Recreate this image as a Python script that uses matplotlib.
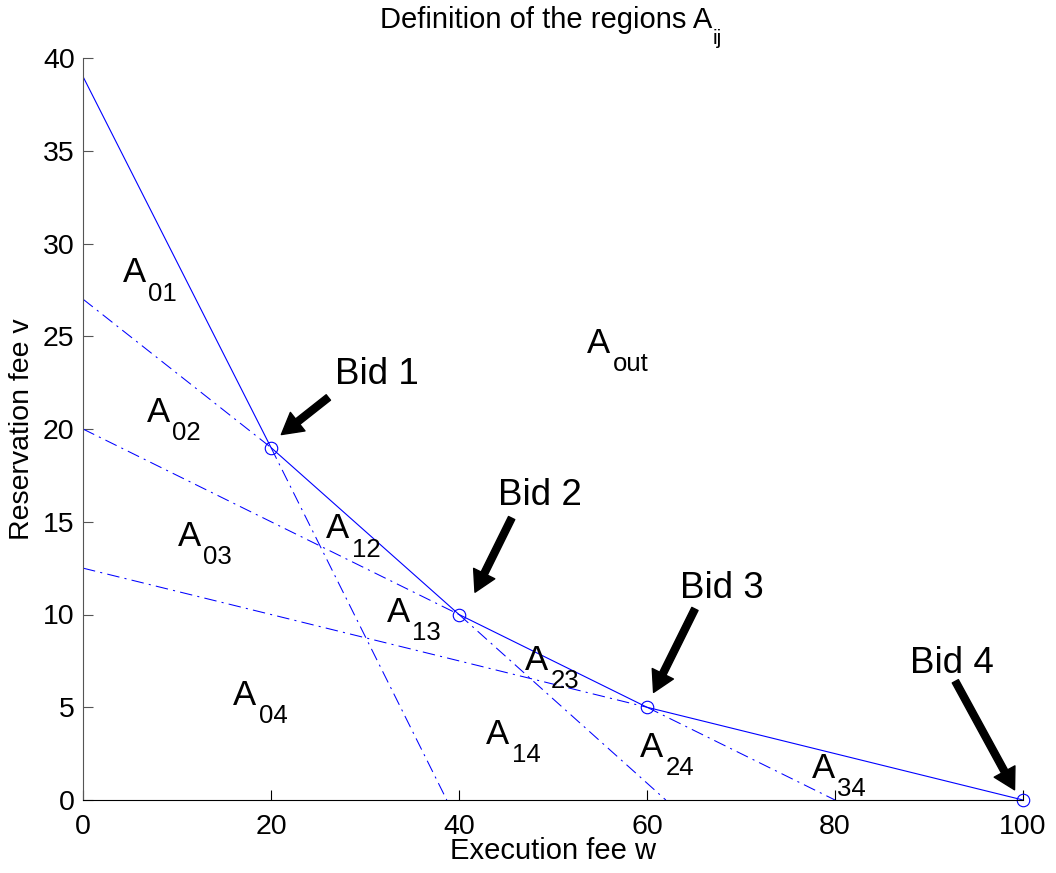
import matplotlib
matplotlib.use("Agg")
import matplotlib.pyplot as plt

plt.rcParams['font.family'] = ['Liberation Sans', 'DejaVu Sans']

# ---- data ----
envelope_w = [0, 20, 40, 60, 100]
envelope_v = [39, 19, 10, 5, 0]
bid_w = [20, 40, 60, 100]
bid_v = [19, 10, 5, 0]
bid_names = ["Bid 1", "Bid 2", "Bid 3", "Bid 4"]

boundary_w = [[0, 20], [20, 38.7], [0, 40], [40, 62], [0, 60], [60, 80]]
boundary_v = [[27, 19], [19, 0], [20, 10], [10, 0], [12.5, 5], [5, 0]]

region_names = ["01", "02", "03", "04", "12", "13", "23", "14", "24", "34", "out"]
region_w = [4.2, 6.8, 10.1, 16.0, 25.85, 32.3, 47.0, 42.9, 59.3, 77.5, 53.6]
region_v = [27.9, 20.4, 13.7, 5.1, 14.1, 9.6, 7.0, 3.0, 2.3, 1.2, 24.1]

bid_text_w = [26.8, 44.1, 63.5, 88.0]
bid_text_v = [22.4, 15.9, 10.9, 6.85]
arrow_tail_w = [26.1, 45.6, 65.1, 92.8]
arrow_tail_v = [21.7, 15.2, 10.3, 6.4]
arrow_tip_w = [21.1, 41.7, 60.7, 99.1]
arrow_tip_v = [19.7, 11.2, 5.8, 0.55]

xticks = [0, 20, 40, 60, 80, 100]
yticks = [0, 5, 10, 15, 20, 25, 30, 35, 40]

W, H = 1056, 873
fig = plt.figure(figsize=(W / 100, H / 100), dpi=100)
ax = fig.add_axes([83 / W, (H - 800) / H, 940 / W, 742 / H])

blue = '#0000FF'
ax.plot(envelope_w, envelope_v, color=blue, lw=0.8)
ax.plot(bid_w, bid_v, 'o', color=blue, mfc='none', ms=9, mew=0.8, clip_on=False)
for bw, bv in zip(boundary_w, boundary_v):
    ax.plot(bw, bv, color=blue, lw=0.75, dashes=(12, 5, 2, 5))

for name, rw, rv in zip(region_names, region_w, region_v):
    ax.text(rw, rv, 'A', fontsize=25, ha='left', va='baseline')
    ax.annotate(name, xy=(rw, rv), xytext=(18.4, -13), textcoords='offset points',
                fontsize=18.5, ha='left', va='baseline')

for name, tw, tv, aw, av, pw, pv in zip(bid_names, bid_text_w, bid_text_v,
                                         arrow_tail_w, arrow_tail_v,
                                         arrow_tip_w, arrow_tip_v):
    ax.text(tw, tv, name, fontsize=26.5, ha='left', va='baseline')
    ax.annotate('', xy=(pw, pv), xytext=(aw, av),
                arrowprops=dict(facecolor='black', edgecolor='black', width=5,
                                headwidth=17, headlength=15, shrink=0))

ax.set_xlim(0, 100)
ax.set_ylim(0, 40)
ax.set_xticks(xticks)
ax.set_yticks(yticks)
ax.spines['top'].set_visible(False)
ax.spines['right'].set_visible(False)
ax.spines['left'].set_color('#555555')
ax.tick_params(direction='in', length=7, labelsize=20.5, width=0.8)
ax.tick_params(axis='y', colors='#555555', labelcolor='black', pad=6)
ax.tick_params(axis='x', pad=10)
ax.set_xlabel('Execution fee w', fontsize=21, labelpad=-2)
ax.set_ylabel('Reservation fee v', fontsize=20.5, labelpad=6)

fig.text(712 / W, 1 - 28 / H, 'Definition of the regions A', fontsize=21,
         ha='right', va='baseline')
fig.text(713 / W, 1 - 44 / H, 'ij', fontsize=15, ha='left', va='baseline')

fig.savefig('out.png', dpi=100)
